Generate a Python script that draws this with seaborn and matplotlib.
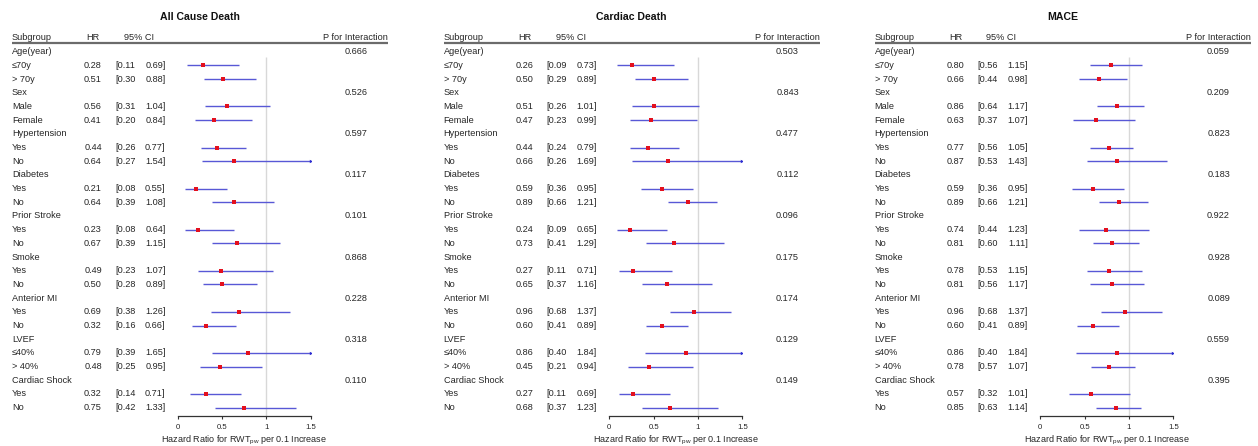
import numpy as np
import pandas as pd
import matplotlib
matplotlib.use("Agg")
import matplotlib.pyplot as plt
import matplotlib.transforms as mtransforms
import seaborn as sns

# ---- data ----
groups = ["Age(year)", "Sex", "Hypertension", "Diabetes", "Prior Stroke",
          "Smoke", "Anterior MI", "LVEF", "Cardiac Shock"]
levels = [["\u226470y", "> 70y"], ["Male", "Female"], ["Yes", "No"], ["Yes", "No"],
          ["Yes", "No"], ["Yes", "No"], ["Yes", "No"], ["\u226440%", "> 40%"], ["Yes", "No"]]

titles = ["All Cause Death", "Cardiac Death", "MACE"]

acd_hr = [0.28, 0.51, 0.56, 0.41, 0.44, 0.64, 0.21, 0.64, 0.23, 0.67, 0.49, 0.50, 0.69, 0.32, 0.79, 0.48, 0.32, 0.75]
acd_lo = [0.11, 0.30, 0.31, 0.20, 0.26, 0.27, 0.08, 0.39, 0.08, 0.39, 0.23, 0.28, 0.38, 0.16, 0.39, 0.25, 0.14, 0.42]
acd_hi = [0.69, 0.88, 1.04, 0.84, 0.77, 1.54, 0.55, 1.08, 0.64, 1.15, 1.07, 0.89, 1.26, 0.66, 1.65, 0.95, 0.71, 1.33]
acd_p = ["0.666", "0.526", "0.597", "0.117", "0.101", "0.868", "0.228", "0.318", "0.110"]

cd_hr = [0.26, 0.50, 0.51, 0.47, 0.44, 0.66, 0.59, 0.89, 0.24, 0.73, 0.27, 0.65, 0.96, 0.60, 0.86, 0.45, 0.27, 0.68]
cd_lo = [0.09, 0.29, 0.26, 0.23, 0.24, 0.26, 0.36, 0.66, 0.09, 0.41, 0.11, 0.37, 0.68, 0.41, 0.40, 0.21, 0.11, 0.37]
cd_hi = [0.73, 0.89, 1.01, 0.99, 0.79, 1.69, 0.95, 1.21, 0.65, 1.29, 0.71, 1.16, 1.37, 0.89, 1.84, 0.94, 0.69, 1.23]
cd_p = ["0.503", "0.843", "0.477", "0.112", "0.096", "0.175", "0.174", "0.129", "0.149"]

mace_hr = [0.80, 0.66, 0.86, 0.63, 0.77, 0.87, 0.59, 0.89, 0.74, 0.81, 0.78, 0.81, 0.96, 0.60, 0.86, 0.78, 0.57, 0.85]
mace_lo = [0.56, 0.44, 0.64, 0.37, 0.56, 0.53, 0.36, 0.66, 0.44, 0.60, 0.53, 0.56, 0.68, 0.41, 0.40, 0.57, 0.32, 0.63]
mace_hi = [1.15, 0.98, 1.17, 1.07, 1.05, 1.43, 0.95, 1.21, 1.23, 1.11, 1.15, 1.17, 1.37, 0.89, 1.84, 1.07, 1.01, 1.14]
mace_p = ["0.059", "0.209", "0.823", "0.183", "0.922", "0.928", "0.089", "0.559", "0.395"]

panels = [(acd_hr, acd_lo, acd_hi, acd_p), (cd_hr, cd_lo, cd_hi, cd_p), (mace_hr, mace_lo, mace_hi, mace_p)]

sns.set_style("white")
plt.rcParams["font.family"] = ["Liberation Sans", "DejaVu Sans"]

W, H = 1258, 446
fig = plt.figure(figsize=(W / 100, H / 100), dpi=100)

row0, step = 51.7, 13.69      # pixel y of first row and row spacing
axis_px = 416                  # pixel y of x axis line
offsets = [0, 431.5, 862.5]
txt = "#262626"
fs = 6.6


def row_of(py):
    return (py - row0) / step


def fx(px):
    return px / W


for k, (hr, lo, hi, pv) in enumerate(panels):
    off = offsets[k]
    ax = fig.add_axes([fx(177.7 + off), (H - axis_px) / H, 133.1 / W, axis_px / H])
    ax.set_xlim(0, 1.5)
    ax.set_ylim(row_of(axis_px), row_of(0))
    ax.patch.set_alpha(0)

    # build table rows
    recs = []
    r = 0
    for g, gname in enumerate(groups):
        r += 1
        for j in range(2):
            i = 2 * g + j
            recs.append(dict(row=r, label=levels[g][j], hr=hr[i], lo=lo[i], hi=hi[i]))
            r += 1
    df = pd.DataFrame(recs)

    ax.vlines(1, 0.4, row_of(axis_px), color="#d8d8d8", lw=1.0, zorder=1)
    ax.hlines(df["row"], df["lo"], df["hi"].clip(upper=1.5), color="#5858d6", lw=1.0, zorder=2)
    over = df[df["hi"] > 1.5]
    ax.scatter(np.full(len(over), 1.5), over["row"], marker=">", s=6, color="#2a2ad0", lw=0, zorder=3)
    sns.scatterplot(data=df, x="hr", y="row", marker="s", color="#e3101e", s=8,
                    linewidth=0, ax=ax, zorder=4, legend=False)

    sns.despine(ax=ax, left=True)
    ax.spines["bottom"].set_color("#333333")
    ax.spines["bottom"].set_linewidth(0.9)
    ax.set_yticks([])
    ax.set_ylabel("")
    ax.set_xticks([0, 0.5, 1, 1.5])
    ax.set_xticklabels(["0", "0.5", "1", "1.5"])
    ax.tick_params(axis="x", direction="out", length=2.5, width=0.8, color="#333333",
                   labelsize=5.6, pad=3.5, labelcolor=txt, bottom=True)
    ax.set_xlabel(r"Hazard Ratio for RWT$_{\mathregular{pw}}$ per 0.1 Increase",
                  fontsize=6.5, color=txt, labelpad=1.5)

    tr = mtransforms.blended_transform_factory(fig.transFigure, ax.transData)
    kw = dict(transform=tr, fontsize=fs, color=txt, va="center", clip_on=False)

    # title and header
    ax.text(fx(200 + off), row_of(17.3), titles[k], transform=tr, fontsize=7.6,
            fontweight="bold", color="#111111", ha="center", va="center")
    ax.text(fx(12 + off), row_of(37), "Subgroup", ha="left", **kw)
    ax.text(fx(93 + off), row_of(37), "HR", ha="center", **kw)
    ax.text(fx(139 + off), row_of(37), "95% CI", ha="center", **kw)
    ax.text(fx(388 + off), row_of(37), "P for Interaction", ha="right", **kw)
    ax.plot([fx(12 + off), fx(388 + off)], [row_of(42.6)] * 2, transform=tr,
            color="#6b6b6b", lw=1.6, clip_on=False, solid_capstyle="butt")

    # table text
    r = 0
    for g, gname in enumerate(groups):
        ax.text(fx(12 + off), r, gname, ha="left", **kw)
        ax.text(fx(356 + off), r, pv[g], ha="center", **kw)
        r += 1
        for j in range(2):
            i = 2 * g + j
            ax.text(fx(12 + off), r, levels[g][j], ha="left", **kw)
            ax.text(fx(93 + off), r, f"{hr[i]:.2f}", ha="center", **kw)
            ax.text(fx(115 + off), r, f"[{lo[i]:.2f}", ha="left", **kw)
            ax.text(fx(165.5 + off), r, f"{hi[i]:.2f}]", ha="right", **kw)
            r += 1

fig.savefig("out.png", dpi=100)
